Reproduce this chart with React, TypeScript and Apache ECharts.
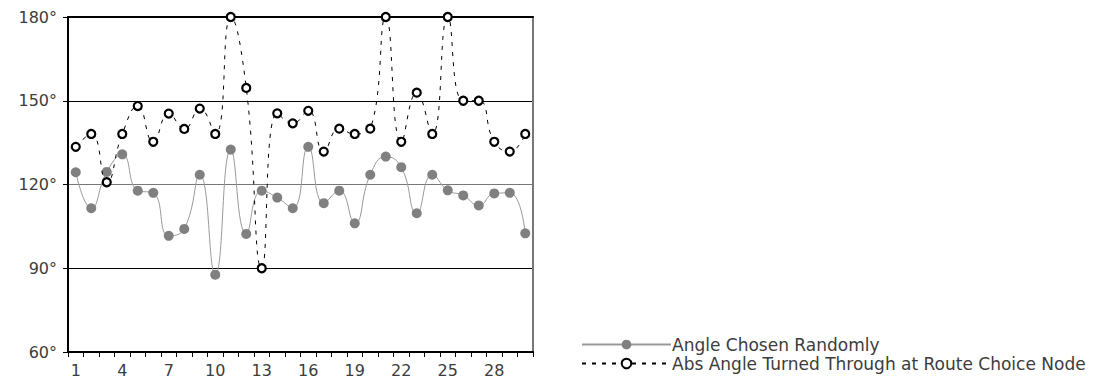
import React, { useEffect, useRef } from "react";
import * as echarts from "echarts";

const categories = Array.from({ length: 30 }, (_, i) => String(i + 1));
const angleChosenRandomly = [
  124.4, 111.5, 124.5, 130.8, 117.8, 117.0, 101.6, 104.1, 123.5, 87.7,
  132.5, 102.3, 117.8, 115.3, 111.5, 133.5, 113.3, 117.8, 106.1, 123.5,
  130.0, 126.2, 109.7, 123.5, 117.9, 116.1, 112.5, 116.8, 117.0, 102.5,
];
const absAngleTurned = [
  133.5, 138.1, 120.8, 138.1, 148.1, 135.3, 145.4, 139.9, 147.2, 138.1,
  180.0, 154.6, 90.0, 145.5, 141.9, 146.4, 131.8, 140.0, 138.1, 140.0,
  180.0, 135.3, 152.9, 138.1, 180.0, 150.0, 150.0, 135.3, 131.8, 138.1,
];
const seriesNames = ["Angle Chosen Randomly", "Abs Angle Turned Through at Route Choice Node"];

const FONT = "DejaVu Sans";
const TEXT = "#3c3c3c";

export default function App() {
  const ref = useRef<HTMLDivElement>(null);
  useEffect(() => {
    if (!ref.current) return;
    const chart = echarts.init(ref.current, null, { renderer: "svg" });
    chart.setOption({
      animation: false,
      textStyle: { fontFamily: FONT },
      grid: { left: 68, right: 573, top: 17, bottom: 33, containLabel: false },
      legend: {
        orient: "vertical",
        left: 576,
        top: 331,
        itemWidth: 89,
        itemHeight: 12,
        itemGap: 2,
        textStyle: { fontFamily: FONT, fontSize: 17, color: TEXT, padding: [0, 0, 0, -4] },
        data: seriesNames,
      },
      xAxis: [
        {
          type: "category",
          data: categories,
          boundaryGap: true,
          axisLine: { lineStyle: { color: "#000", width: 2 } },
          axisTick: { show: true, interval: 0, length: 5, lineStyle: { color: "#000", width: 1 } },
          axisLabel: { interval: 2, color: TEXT, fontSize: 16, margin: 10, fontFamily: FONT },
          splitLine: { show: false },
        },
        {
          type: "category",
          data: categories,
          position: "top",
          axisLine: { show: true, lineStyle: { color: "#000", width: 2 } },
          axisTick: { show: false },
          axisLabel: { show: false },
        },
      ],
      yAxis: [
        {
          type: "value",
          min: 60,
          max: 180,
          interval: 30,
          axisLine: { show: true, lineStyle: { color: "#000", width: 2 } },
          axisTick: { show: true, length: 5, lineStyle: { color: "#000" } },
          axisLabel: { formatter: "{value}°", color: TEXT, fontSize: 16, margin: 11, fontFamily: FONT },
          splitLine: {
            show: true,
            lineStyle: { color: ["#000", "#000", "#777", "#000", "#000"], width: 1 },
          },
        },
        {
          type: "value",
          min: 60,
          max: 180,
          interval: 30,
          position: "right",
          axisLine: { show: true, lineStyle: { color: "#777", width: 2 } },
          axisTick: { show: false },
          axisLabel: { show: false },
          splitLine: { show: false },
        },
      ],
      series: [
        {
          name: seriesNames[0],
          type: "line",
          data: angleChosenRandomly,
          smooth: 0.5,
          symbol: "circle",
          symbolSize: 10,
          itemStyle: { color: "#808080" },
          lineStyle: { color: "#999", width: 1 },
          z: 2,
        },
        {
          name: seriesNames[1],
          type: "line",
          data: absAngleTurned,
          smooth: 0.5,
          symbol: "circle",
          symbolSize: 8,
          itemStyle: { color: "#fff", borderColor: "#000", borderWidth: 2.2 },
          lineStyle: { color: "#000", width: 1, type: [4, 6] },
          z: 3,
        },
      ],
    });
    return () => chart.dispose();
  }, []);
  return <div ref={ref} style={{ width: 1106, height: 385, position: "absolute", left: 0, top: 0 }} />;
}
